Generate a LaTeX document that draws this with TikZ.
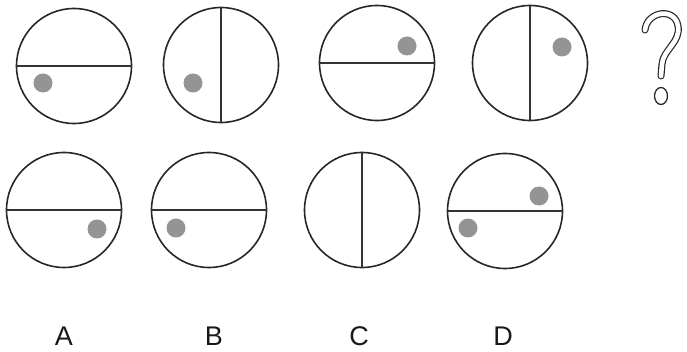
\documentclass[tikz,border=0pt]{standalone}
\usepackage{fontspec}
\setmainfont{Liberation Sans}
\usepackage{tikz}
\usetikzlibrary{positioning}

\begin{document}
\begin{tikzpicture}[
      x=1pt, y=-1pt,
      ring/.style={draw=black!85, circle, line width=1.6pt, minimum size=115pt,
                   inner sep=0pt},
      chord/.style={draw=black!80, line width=1.6pt},
      spot/.style={circle, fill=black!42, minimum size=19pt, inner sep=0pt},
      tag/.style={font=\fontsize{27}{30}\selectfont, text=black!90},
      hook/.style={draw=black!85, line width=1.2pt, double=white,
                   double distance=4.6pt, line cap=round}]

    \useasboundingbox (0,0) rectangle (687,352);

    % top row
    \node[ring] (t1) at (74,66) {};
    \draw[chord] (t1.west) -- (t1.east);
    \node[spot] (t1s) at (43,83) {};

    \node[ring] (t2) at (221,65) {};
    \draw[chord] (t2.north) -- (t2.south);
    \node[spot] (t2s) at (193,83) {};

    \node[ring] (t3) at (377,63) {};
    \draw[chord] (t3.west) -- (t3.east);
    \node[spot] (t3s) at (407,46) {};

    \node[ring] (t4) at (530,63) {};
    \draw[chord] (t4.north) -- (t4.south);
    \node[spot] (t4s) at (562,47) {};

    % question mark
    \draw[hook] (645,30) .. controls (647,11) and (675,7) .. (678,26)
                .. controls (681,42) and (663,50) .. (662,64) -- (661,76);
    \coordinate (qdot) at (661,96);
    \draw[draw=black!85, line width=1.3pt] (qdot) ellipse [x radius=6.5, y radius=8.5];

    % answer row
    \node[ring] (a) at (64,210) {};
    \draw[chord] (a.west) -- (a.east);
    \node[spot] (as) at (97,229) {};

    \node[ring] (b) at (209,210) {};
    \draw[chord] (b.west) -- (b.east);
    \node[spot] (bs) at (176,228) {};

    \node[ring] (c) at (362,210) {};
    \draw[chord] (c.north) -- (c.south);

    \node[ring] (d) at (505,211) {};
    \draw[chord] (d.west) -- (d.east);
    \node[spot] (ds1) at (539,196) {};
    \node[spot] (ds2) at (468,228) {};

    % labels
    \node[tag] (la) at (64,336) {A};
    \node[tag] (lb) at (214,336) {B};
    \node[tag] (lc) at (359,336) {C};
    \node[tag] (ld) at (503,336) {D};
  \end{tikzpicture}
\end{document}
